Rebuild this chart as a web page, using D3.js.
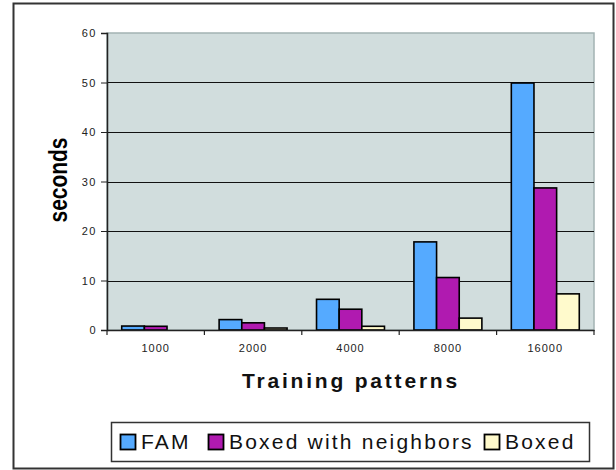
<!DOCTYPE html>
<html>
<head>
<meta charset="utf-8">
<script src="https://cdn.jsdelivr.net/npm/d3@7"></script>
<style>
  html, body { margin: 0; padding: 0; background: #fff; }
  svg { display: block; font-family: "Liberation Sans", Arial, sans-serif; }
</style>
</head>
<body>
<svg id="chart" width="616" height="470"></svg>
<script>
// Training time (seconds) by number of training patterns
const categories = ["1000", "2000", "4000", "8000", "16000"];
const seriesNames = ["FAM", "Boxed with neighbors", "Boxed"];
const famValues = [0.8, 2.1, 6.2, 17.8, 49.9];
const neighborValues = [0.75, 1.45, 4.2, 10.6, 28.7];
const boxedValues = [0, 0.4, 0.75, 2.4, 7.3];
const yTicks = [0, 10, 20, 30, 40, 50, 60];
const seriesColors = ["#55aaff", "#b01ab0", "#fffacc"];

const seriesValues = [famValues, neighborValues, boxedValues];

const svg = d3.select("#chart");

// outer frame
svg.append("rect")
  .attr("x", 13.5).attr("y", 3.5).attr("width", 600).attr("height", 465)
  .attr("fill", "#fff").attr("stroke", "#333").attr("stroke-width", 2);

const plot = { left: 107, top: 33, right: 594, bottom: 330 };

const x = d3.scaleBand().domain(categories).range([plot.left, plot.right]).padding(0);
const xInner = d3.scaleBand().domain(seriesNames)
  .range([0, x.bandwidth()]).paddingInner(0).paddingOuter(0.65);
const y = d3.scaleLinear().domain([0, 60]).range([plot.bottom, plot.top]);

// plot background
svg.append("rect")
  .attr("x", plot.left).attr("y", plot.top)
  .attr("width", plot.right - plot.left).attr("height", plot.bottom - plot.top)
  .attr("fill", "#d1dddd").attr("stroke", "#a3b3b3").attr("stroke-width", 1.5);

// gridlines
svg.append("g")
  .selectAll("line")
  .data(yTicks.filter(t => t > 0 && t < 60))
  .join("line")
  .attr("x1", plot.left).attr("x2", plot.right)
  .attr("y1", d => Math.round(y(d)) + 0.5).attr("y2", d => Math.round(y(d)) + 0.5)
  .attr("stroke", "#111").attr("stroke-width", 1);

// bars (zero values draw nothing)
const groups = svg.append("g")
  .selectAll("g")
  .data(categories)
  .join("g")
  .attr("transform", d => `translate(${x(d)},0)`);

groups.selectAll("rect")
  .data((d, i) => seriesNames.map((s, j) => ({ s, j, v: seriesValues[j][i] })).filter(d => d.v > 0))
  .join("rect")
  .attr("x", d => xInner(d.s))
  .attr("width", xInner.bandwidth())
  .attr("y", d => y(d.v))
  .attr("height", d => y(0) - y(d.v))
  .attr("fill", d => seriesColors[d.j])
  .attr("stroke", "#000").attr("stroke-width", 1.6);

// y axis
const yAxis = d3.axisLeft(y).tickValues(yTicks).tickSize(6).tickPadding(4);
const gy = svg.append("g").attr("transform", `translate(${plot.left},0)`).call(yAxis);
gy.select(".domain").attr("stroke", "#222").attr("stroke-width", 1.5);
gy.selectAll(".tick line").attr("stroke", "#222");
gy.selectAll(".tick text")
  .attr("font-size", 11).attr("fill", "#222").attr("letter-spacing", 1.5)
  .attr("font-family", "Liberation Sans, Arial, sans-serif");

// x axis
const xAxis = d3.axisBottom(x).tickSize(0).tickPadding(14);
const gx = svg.append("g").attr("transform", `translate(0,${plot.bottom})`).call(xAxis);
gx.select(".domain").attr("stroke", "#222").attr("stroke-width", 1.5);
gx.selectAll(".tick text")
  .attr("font-size", 11).attr("fill", "#222").attr("letter-spacing", 1)
  .attr("font-family", "Liberation Sans, Arial, sans-serif");
// category divider ticks
gx.append("g").selectAll("line")
  .data(categories.concat(["end"]))
  .join("line")
  .attr("x1", (d, i) => plot.left + i * x.step())
  .attr("x2", (d, i) => plot.left + i * x.step())
  .attr("y1", 0).attr("y2", 5)
  .attr("stroke", "#222").attr("stroke-width", 1.2);

// axis titles
svg.append("text")
  .attr("x", 351).attr("y", 388)
  .attr("text-anchor", "middle")
  .attr("font-size", 21).attr("font-weight", "bold").attr("letter-spacing", 2.8)
  .attr("fill", "#111")
  .text("Training patterns");

svg.append("text")
  .attr("transform", "translate(67,180) rotate(-90)")
  .attr("text-anchor", "middle")
  .attr("font-size", 26).attr("font-weight", "bold")
  .attr("textLength", 85).attr("lengthAdjust", "spacingAndGlyphs")
  .attr("fill", "#000")
  .text("seconds");

// legend
const legend = svg.append("g");
legend.append("rect")
  .attr("x", 111.5).attr("y", 422.5).attr("width", 478).attr("height", 39)
  .attr("fill", "#fff").attr("stroke", "#333").attr("stroke-width", 1.5);

const legendX = [120, 208, 484];
const items = legend.selectAll("g.item")
  .data(seriesNames)
  .join("g")
  .attr("class", "item")
  .attr("transform", (d, i) => `translate(${legendX[i]},434)`);
items.append("rect")
  .attr("x", 0.5).attr("y", 0.5).attr("width", 15).attr("height", 15)
  .attr("fill", (d, i) => seriesColors[i])
  .attr("stroke", "#000").attr("stroke-width", 1.8);
items.append("text")
  .attr("x", 21).attr("y", 14.5)
  .attr("font-size", 21).attr("letter-spacing", 2.2)
  .attr("fill", "#111")
  .text(d => d);
</script>
</body>
</html>
